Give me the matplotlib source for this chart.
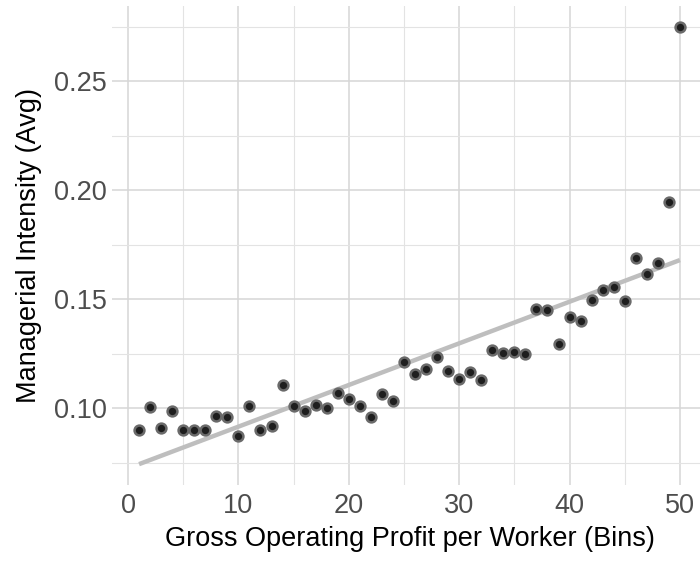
import numpy as np
import matplotlib
matplotlib.use('Agg')
import matplotlib.pyplot as plt

# binned averages
bins = np.arange(1, 51)
intensity = [
    0.0898, 0.1006, 0.0908, 0.0985, 0.0898, 0.0898, 0.0898, 0.0965, 0.0959, 0.0872,
    0.1011, 0.0898, 0.0919, 0.1106, 0.1011, 0.0988, 0.1014, 0.1001, 0.1069, 0.1043,
    0.1008, 0.0962, 0.1066, 0.1031, 0.1211, 0.1155, 0.1180, 0.1233, 0.1170, 0.1134,
    0.1167, 0.1128, 0.1266, 0.1252, 0.1258, 0.1248, 0.1454, 0.1450, 0.1294, 0.1417,
    0.1398, 0.1495, 0.1541, 0.1556, 0.1492, 0.1689, 0.1615, 0.1664, 0.1945, 0.2746,
]
x_ticks = [0, 10, 20, 30, 40, 50]
y_ticks = [0.10, 0.15, 0.20, 0.25]
y_minor = [0.075, 0.125, 0.175, 0.225, 0.275]
x_minor = [5, 15, 25, 35, 45]

plt.rcParams['font.family'] = ['Liberation Sans', 'DejaVu Sans']

fig = plt.figure(figsize=(7, 5.61), dpi=100)
ax = fig.add_axes([0.16, 0.1355, 0.85, 0.8545])

# linear fit like geom_smooth(method='lm')
coef = np.polyfit(bins, intensity, 1)
xs = np.array([bins[0], bins[-1]])
ax.plot(xs, np.polyval(coef, xs), color='#bebebe', lw=3.2, solid_capstyle='butt', zorder=2)

ax.scatter(bins, intensity, s=50, facecolor='#1e1e1e', edgecolor='#6a6a6a', linewidths=1.8, zorder=3)

ax.set_xlim(-1.45, 52.45)
ax.set_ylim(0.0648, 0.2846)
ax.set_xticks(x_ticks)
ax.set_yticks(y_ticks)
ax.set_yticklabels(['%.2f' % v for v in y_ticks])
ax.set_xticks(x_minor, minor=True)
ax.set_yticks(y_minor, minor=True)
ax.grid(True, which='major', color='#d6d6d6', lw=1.1)
ax.grid(True, which='minor', color='#e3e3e3', lw=0.8)
ax.set_axisbelow(True)
for s in ax.spines.values():
    s.set_visible(False)
ax.tick_params(which='both', length=0, labelsize=19.5, labelcolor='#4d4d4d', pad=4)
ax.tick_params(axis='x', pad=6)

ax.set_xlabel('Gross Operating Profit per Worker (Bins)', fontsize=19.5, color='black', labelpad=5)
ax.set_ylabel('Managerial Intensity (Avg)', fontsize=19.5, color='black', labelpad=8)

fig.savefig('out.png', dpi=100)
